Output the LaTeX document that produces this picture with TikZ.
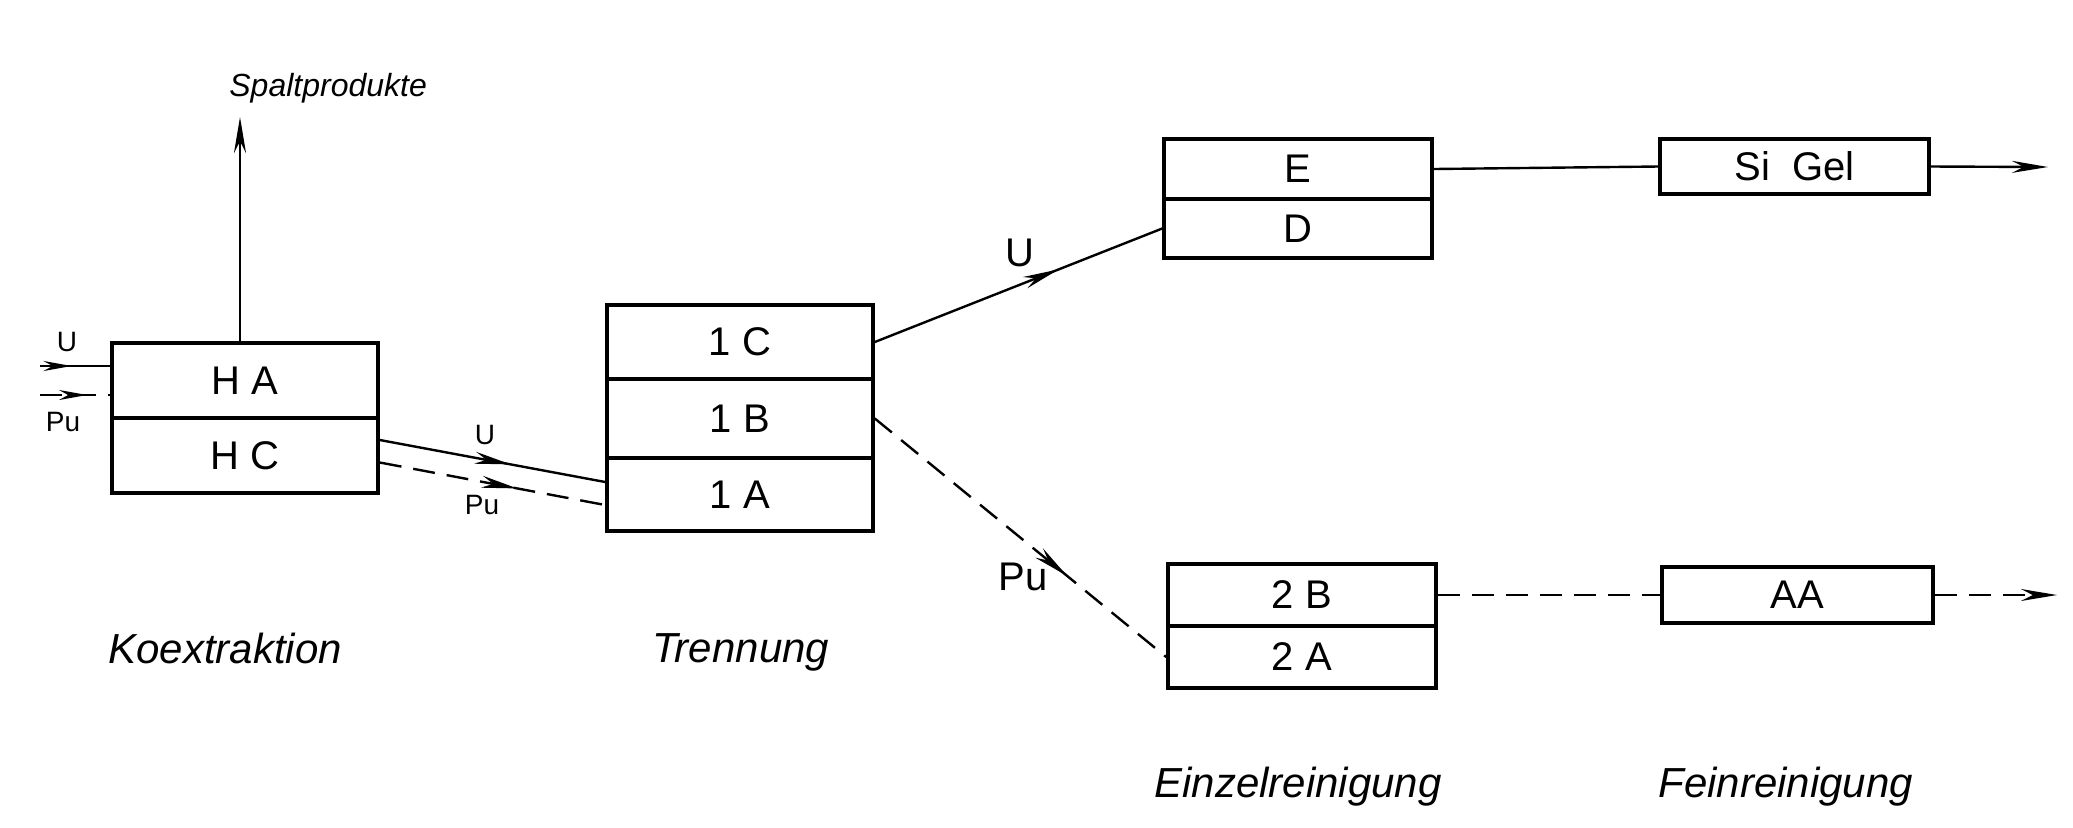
\documentclass[tikz,border=0pt]{standalone}
\usepackage{fontspec}
\setmainfont{Liberation Sans}
\usetikzlibrary{arrows.meta,decorations.markings}
\begin{document}
\begin{tikzpicture}[x=0.5pt,y=-0.5pt,
  box/.style={draw, line width=1.8pt, rectangle, inner sep=0pt, font=\fontsize{20}{24}\selectfont},
  conn/.style={line width=1.2pt},
  dsh/.style={dash pattern=on 11pt off 6pt},
  tipA/.style={-{Stealth[length=18pt,width=6pt]}},
  midarr/.style={postaction={decorate,decoration={markings,mark=at position #1 with {\arrow{Stealth[length=18pt,width=6pt]}}}}},
  midarrs/.style={postaction={decorate,decoration={markings,mark=at position #1 with {\arrow{Stealth[length=14pt,width=5pt]}}}}},
  midarro/.style={postaction={decorate,decoration={markings,mark=at position #1 with {\arrow{Stealth[open,length=18pt,width=6pt]}}}}},
  lab/.style={font=\fontsize{21}{25}\selectfont\itshape, inner sep=0pt, anchor=base west},
  smalllab/.style={font=\fontsize{14}{17}\selectfont, inner sep=0pt},
  biglab/.style={font=\fontsize{20}{24}\selectfont, inner sep=0pt}
]
\useasboundingbox (0,0) rectangle (2073,827);

% boxes
\node[box, minimum width=133pt, minimum height=37.5pt] (HA) at (245,380.5) {H A};
\node[box, minimum width=133pt, minimum height=37.5pt] (HC) at (245,455.5) {H C};
\node[box, minimum width=133pt, minimum height=37pt] (1C) at (740,342) {1 C};
\node[box, minimum width=133pt, minimum height=39.5pt] (1B) at (740,418.5) {1 B};
\node[box, minimum width=133pt, minimum height=36.5pt] (1A) at (740,494.5) {1 A};
\node[box, minimum width=134pt, minimum height=30pt] (E) at (1298,169) {E};
\node[box, minimum width=134pt, minimum height=29.5pt] (D) at (1298,228.5) {D};
\node[box, minimum width=134.5pt, minimum height=27.5pt] (SiGel) at (1794.5,166.5) {Si\ \ Gel};
\node[box, minimum width=134pt, minimum height=31pt] (2B) at (1302,595) {2 B};
\node[box, minimum width=134pt, minimum height=31pt] (2A) at (1302,657) {2 A};
\node[box, minimum width=135.5pt, minimum height=28pt] (AA) at (1797.5,595) {AA};

% inputs
\coordinate (inU) at (40,366);
\coordinate (inPu) at (40,395);
\draw[conn,midarrs=0.45] (inU) -- (inU -| HA.west);
\draw[conn,dsh,midarrs=0.67] (inPu) -- (inPu -| HA.west);
\node[smalllab] (lU1) at (67,342) {U};
\node[smalllab] (lPu1) at (63,422) {Pu};

% Spaltprodukte
\coordinate (sp) at (240,117);
\draw[conn,tipA] (HA.north -| sp) -- (sp);
\node[font=\fontsize{16}{19}\selectfont\itshape, inner sep=0pt, anchor=base west] (spl) at (229,96) {Spaltprodukte};

% HC -> 1A
\draw[conn,midarr=0.58] ([yshift=7.75pt]HC.east) -- ([yshift=6.25pt]1A.west);
\draw[conn,dsh,midarro=0.61] ([yshift=-3.5pt]HC.east) -- ([yshift=-5.25pt]1A.west);
\node[smalllab] (lU2) at (485,435) {U};
\node[smalllab] (lPu2) at (482,505) {Pu};

% separation
\draw[conn,midarr=0.64] (1C.east) -- (D.west);
\draw[conn,dsh,midarr=0.66] (1B.east) -- (2A.west);
\node[biglab] (lU3) at (1020,253) {U};
\node[biglab] (lPu3) at (1023,577) {Pu};

% fine purification
\draw[conn] (E.east) -- (SiGel.west);
\draw[conn,dsh] (2B.east) -- (AA.west);
\coordinate (outU) at (2048,167);
\coordinate (outPu) at (2057,595);
\draw[conn,tipA] (SiGel.east) -- (outU);
\draw[conn,dsh,tipA] (AA.east) -- (outPu);

% stage labels
\node[lab] (k) at (108,663) {Koextraktion};
\node[lab] (t) at (652,662) {Trennung};
\node[lab] (ez) at (1154,797) {Einzelreinigung};
\node[lab] (fr) at (1658,797) {Feinreinigung};
\end{tikzpicture}
\end{document}
